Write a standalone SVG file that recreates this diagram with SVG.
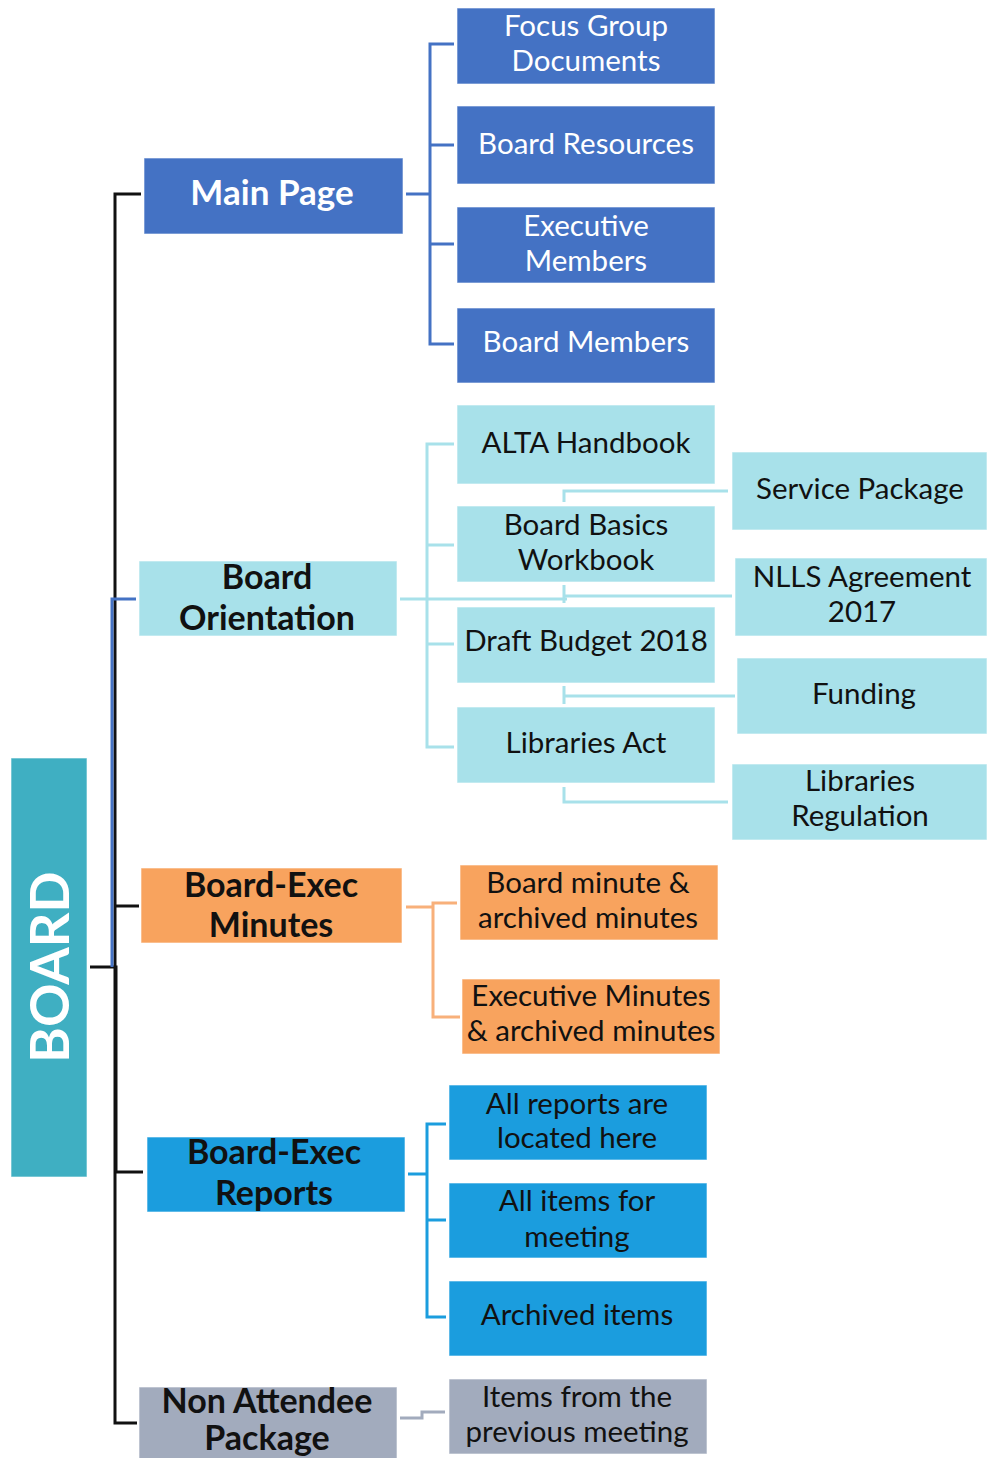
<svg xmlns="http://www.w3.org/2000/svg" width="987" height="1458" viewBox="0 0 987 1458">
<style>
.t{font-family:Lato,"Open Sans","Liberation Sans",sans-serif;font-size:29.5px;text-anchor:middle;fill:#111}
.h{font-family:Lato,"Open Sans","Liberation Sans",sans-serif;font-size:34px;font-weight:bold;text-anchor:middle;fill:#111}
.w{fill:#fff}
.c{fill:none;stroke-width:3}
.bl{stroke:#4472C4}.cy{stroke:#A8E1EA}.or{stroke:#F8B07A}.rb{stroke:#1B9DDE}.gr{stroke:#A2ABBD}.bk{stroke:#111}
.b1{fill:#4472C4}.b2{fill:#A8E1EA}.b3{fill:#F8A35E}.b4{fill:#1B9DDE}.b5{fill:#A2ABBD}
rect{stroke:#fff;stroke-opacity:0.6;stroke-width:1}
</style>
<rect width="987" height="1458" fill="#fff" stroke="none"/>
<g id="connectors">
<path class="c bk" d="M141 194H115V1423H137"/>
<path class="c bk" d="M115 906H139"/>
<path class="c bk" d="M90 967H116V1172H143"/>
<path class="c bl" d="M136 599H112V967"/>
<path class="c bl" d="M406 194H430M454 44H430V344H454M430 145H454M430 244H454"/>
<path class="c cy" d="M400 599H567M454 444H427V747H454M427 545H454M427 644H454"/>
<path class="c cy" d="M564 502V491H728M564 585V603M564 596H732M564 686V704M564 696H735M564 787V802H728"/>
<path class="c or" d="M406 907H433M457 903H433V1017H460"/>
<path class="c rb" d="M408 1174H427M446 1124H427V1317H446M427 1220H446"/>
<path class="c gr" d="M400 1418H422V1412H445"/>
</g>
<g id="board"><rect x="11" y="758" width="76" height="419" fill="#3FAFC2"/><text x="49" y="967" transform="rotate(-90 49 967)" dy="20" style="font-family:Lato,'Liberation Sans',sans-serif;font-size:54px;font-weight:bold;fill:#fff;text-anchor:middle">BOARD</text></g>
<g id="main-page"><rect class="b1" x="144" y="158" width="259" height="76"/><text class="h" x="272" y="205" style="font-size:35px;fill:#fff">Main Page</text></g>
<g id="focus-group"><rect class="b1" x="457" y="8" width="258" height="76"/><text class="t w" x="586" y="36">Focus Group</text><text class="t w" x="586" y="71">Documents</text></g>
<g id="board-resources"><rect class="b1" x="457" y="106" width="258" height="78"/><text class="t w" x="586" y="154">Board Resources</text></g>
<g id="executive-members"><rect class="b1" x="457" y="207" width="258" height="76"/><text class="t w" x="586" y="236">Executive</text><text class="t w" x="586" y="271">Members</text></g>
<g id="board-members"><rect class="b1" x="457" y="308" width="258" height="75"/><text class="t w" x="586" y="352">Board Members</text></g>
<g id="board-orientation"><rect class="b2" x="139" y="561" width="258" height="75"/><text class="h" x="267" y="589">Board</text><text class="h" x="267" y="630">Orientation</text></g>
<g id="alta-handbook"><rect class="b2" x="457" y="405" width="258" height="79"/><text class="t" x="586" y="453">ALTA Handbook</text></g>
<g id="board-basics"><rect class="b2" x="457" y="506" width="258" height="76"/><text class="t" x="586" y="535">Board Basics</text><text class="t" x="586" y="570">Workbook</text></g>
<g id="draft-budget"><rect class="b2" x="457" y="607" width="258" height="76"/><text class="t" x="586" y="651">Draft Budget 2018</text></g>
<g id="libraries-act"><rect class="b2" x="457" y="707" width="258" height="76"/><text class="t" x="586" y="753">Libraries Act</text></g>
<g id="service-package"><rect class="b2" x="732" y="452" width="255" height="78"/><text class="t" x="860" y="499">Service Package</text></g>
<g id="nlls-agreement"><rect class="b2" x="735" y="558" width="252" height="78"/><text class="t" x="862" y="587">NLLS Agreement</text><text class="t" x="862" y="622">2017</text></g>
<g id="funding"><rect class="b2" x="737" y="658" width="250" height="76"/><text class="t" x="864" y="704">Funding</text></g>
<g id="libraries-regulation"><rect class="b2" x="732" y="764" width="255" height="76"/><text class="t" x="860" y="791">Libraries</text><text class="t" x="860" y="826">Regulation</text></g>
<g id="board-exec-minutes"><rect class="b3" x="141" y="868" width="261" height="75"/><text class="h" x="271" y="897">Board-Exec</text><text class="h" x="271" y="937">Minutes</text></g>
<g id="board-minute"><rect class="b3" x="460" y="865" width="258" height="75"/><text class="t" x="588" y="893">Board minute &amp;</text><text class="t" x="588" y="928">archived minutes</text></g>
<g id="executive-minutes"><rect class="b3" x="462" y="979" width="258" height="75"/><text class="t" x="591" y="1006">Executive Minutes</text><text class="t" x="591" y="1041">&amp; archived minutes</text></g>
<g id="board-exec-reports"><rect class="b4" x="147" y="1137" width="258" height="75"/><text class="h" x="274" y="1164">Board-Exec</text><text class="h" x="274" y="1205">Reports</text></g>
<g id="all-reports"><rect class="b4" x="449" y="1085" width="258" height="75"/><text class="t" x="577" y="1114">All reports are</text><text class="t" x="577" y="1148">located here</text></g>
<g id="all-items"><rect class="b4" x="449" y="1183" width="258" height="75"/><text class="t" x="577" y="1211">All items for</text><text class="t" x="577" y="1247">meeting</text></g>
<g id="archived-items"><rect class="b4" x="449" y="1281" width="258" height="75"/><text class="t" x="577" y="1325">Archived items</text></g>
<g id="non-attendee"><rect class="b5" x="139" y="1387" width="258" height="75"/><text class="h" x="267" y="1413">Non Attendee</text><text class="h" x="267" y="1450">Package</text></g>
<g id="items-previous"><rect class="b5" x="449" y="1379" width="258" height="75"/><text class="t" x="577" y="1407">Items from the</text><text class="t" x="577" y="1442">previous meeting</text></g>
</svg>
